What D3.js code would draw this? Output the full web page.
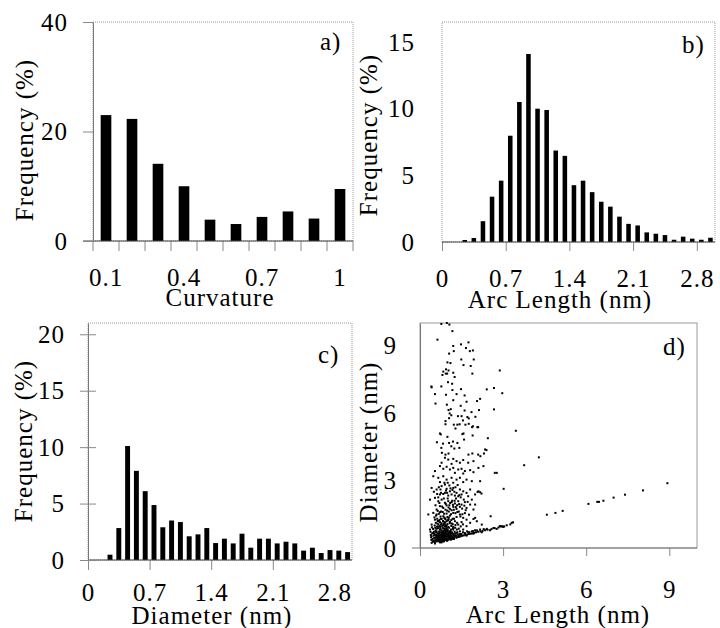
<!DOCTYPE html>
<html>
<head>
<meta charset="utf-8">
<script src="https://cdn.jsdelivr.net/npm/d3@7"></script>
<style>
  body { margin: 0; background: #fff; }
  svg text { font-family: "Liberation Serif", "Times New Roman", Times, serif !important; fill: #000; }
</style>
</head>
<body>
<svg id="chart" width="720" height="628"></svg>
<script>
// ---- data ----
// a) curvature histogram
var curvatureBins = [0.1, 0.2, 0.3, 0.4, 0.5, 0.6, 0.7, 0.8, 0.9, 1];
var curvatureFreq = [23.0, 22.3, 14.1, 10.0, 3.9, 3.1, 4.4, 5.4, 4.1, 9.5];
var curvatureTicks = [0.1, 0.4, 0.7, 1];

// b) arc length histogram (bin start, nm)
var arcLengthBins = [0.2, 0.3, 0.4, 0.5, 0.6, 0.7, 0.8, 0.9, 1.0, 1.1, 1.2, 1.3, 1.4, 1.5,
                     1.6, 1.7, 1.8, 1.9, 2.0, 2.1, 2.2, 2.3, 2.4, 2.5, 2.6, 2.7, 2.8, 2.9];
var arcLengthFreq = [0.15, 0.3, 1.56, 3.4, 4.6, 7.97, 10.5, 14.1, 10.0, 9.9, 6.86, 6.46, 4.26, 4.6,
                     3.74, 3.02, 2.65, 1.9, 1.36, 1.24, 0.72, 0.62, 0.52, 0.17, 0.4, 0.25, 0.17, 0.32];

// c) diameter histogram (bin start, nm)
var diameterBins = [0.2, 0.3, 0.4, 0.5, 0.6, 0.7, 0.8, 0.9, 1.0, 1.1, 1.2, 1.3, 1.4, 1.5,
                    1.6, 1.7, 1.8, 1.9, 2.0, 2.1, 2.2, 2.3, 2.4, 2.5, 2.6, 2.7, 2.8, 2.9];
var diameterFreq = [0.47, 2.83, 10.1, 7.9, 6.1, 4.87, 2.9, 3.5, 3.36, 2.1, 2.27, 2.83, 1.5, 1.89,
                    1.47, 2.33, 1.09, 1.89, 1.89, 1.47, 1.62, 1.47, 0.83, 1.09, 0.62, 0.88, 0.83, 0.7];
var nmTicks = [0, 0.7, 1.4, 2.1, 2.8];

// d) diameter vs arc length, [arc length, diameter] in nm
var scatterPoints = [
  [0.77,9.96],[0.97,10.0],[1.06,9.93],[1.17,9.64],[0.63,9.26],[1.75,9.14],[1.48,9.05],[1.2,8.98],
  [1.66,8.89],[1.8,8.75],[1.91,8.78],[1.22,8.75],[1.05,8.64],[1.49,8.38],[1.94,8.38],[0.99,8.25],
  [1.1,8.22],[1.57,8.13],[1.83,8.09],[0.94,7.94],[1.03,7.89],[0.84,7.84],[0.93,7.75],[0.98,7.75],
  [1.2,7.79],[1.89,7.75],[2.88,7.89],[0.81,7.69],[1.25,7.6],[1.01,7.37],[1.16,7.3],[0.41,7.18],
  [0.42,7.14],[0.77,7.18],[1.17,7.02],[1.48,7.06],[2.41,7.05],[2.67,7.11],[2.97,6.88],[0.54,6.84],
  [0.94,6.81],[1.32,6.84],[1.61,6.78],[2.17,6.63],[2.06,6.53],[1.2,6.57],[1.68,6.5],[0.56,6.42],
  [0.97,6.37],[1.47,6.32],[1.11,6.17],[1.03,6.13],[2.13,6.13],[2.67,6.16],[1.61,6.11],[1.86,6.04],
  [1.07,5.98],[1.13,5.9],[1.37,5.86],[1.5,5.86],[1.71,5.82],[1.76,5.76],[2.0,5.83],[1.05,5.77],
  [0.92,5.64],[1.55,5.67],[1.22,5.48],[1.35,5.48],[1.43,5.5],[1.64,5.48],[1.76,5.52],[1.88,5.37],
  [2.07,5.37],[2.1,5.37],[1.28,5.31],[0.92,5.5],[3.46,5.21],[0.72,5.09],[0.75,5.05],[0.99,4.94],
  [1.53,5.06],[1.57,5.09],[1.9,5.0],[2.45,4.88],[1.91,5.41],
  [0.61,4.7],[0.83,4.64],[1.05,4.67],[1.19,4.73],[1.35,4.67],[1.59,4.82],[0.77,4.45],[1.13,4.52],
  [1.24,4.42],[1.42,4.45],[2.4,4.35],[0.79,4.23],[0.92,4.15],[1.03,4.2],[1.75,4.15],[1.89,4.2],
  [2.1,4.15],[2.31,4.2],[3.76,3.68],[4.29,4.03],[3.02,2.63],[2.7,3.34],[2.55,1.41],[2.22,2.42],
  [2.08,2.49],[2.35,4.38],[2.18,4.08],
  [0.90,4.01],[1.02,3.93],[1.20,3.96],[1.32,3.86],[1.56,3.91],[1.74,3.79],[1.93,3.86],[1.44,3.79],
  [0.78,3.79],[1.14,3.74],[2.29,3.64],[0.72,3.64],[0.84,3.52],[0.96,3.61],[1.08,3.49],[1.20,3.56],
  [1.38,3.49],[1.50,3.52],[1.62,3.42],[1.81,3.46],[1.93,3.37],[0.54,3.42],[1.26,3.34],[1.56,3.31],
  [2.77,3.34],[2.11,3.56],
  [0.48,3.19],[0.66,3.12],[0.84,3.19],[0.96,3.04],[1.14,3.12],[1.32,3.04],[1.44,3.12],[1.68,3.04],
  [1.87,2.97],[0.72,2.93],[1.20,2.90],[1.56,2.93],[2.17,2.97],[0.90,2.82],
  [0.42,2.67],[0.60,2.60],[0.78,2.75],[0.96,2.63],[1.08,2.52],[1.20,2.67],[1.32,2.45],[1.44,2.60],
  [1.56,2.52],[1.68,2.45],[1.81,2.60],[0.72,2.38],[0.90,2.45],[1.02,2.33],[1.14,2.38],[1.26,2.33],
  [1.38,2.30],[1.50,2.38],[2.11,2.52],[2.17,2.48],[1.99,2.38],[0.36,2.15],[1.74,2.30],
  [0.54,2.23],[0.66,2.08],[0.78,2.15],[0.90,2.01],[1.02,2.08],[1.14,2.04],[1.26,1.98],[1.38,2.08],
  [1.50,1.93],[1.62,2.04],[1.81,1.93],[0.72,1.86],[0.84,1.78],[0.96,1.89],[1.08,1.74],[1.20,1.83],
  [1.32,1.74],[1.44,1.83],[1.68,1.78],[1.93,1.71],[1.87,2.15],[1.99,1.93],[0.30,1.49],[0.60,1.71],
  [0.48,1.56],[0.60,1.49],[0.72,1.59],[0.84,1.41],[0.96,1.53],[1.08,1.44],[1.20,1.56],[1.32,1.38],
  [1.44,1.49],[1.56,1.34],[0.54,1.26],[0.66,1.19],[0.78,1.29],[0.90,1.12],[1.02,1.23],[1.14,1.09],
  [1.26,1.19],[1.38,1.04],[1.50,1.15],[1.68,1.26],[1.81,1.12],[1.93,1.29],[2.05,1.19],[2.23,1.04],
  [0.42,1.04],[0.72,0.97],[0.96,1.00],[1.20,0.94],[1.68,0.97],[1.99,1.34],
  [0.36,0.82],[0.48,0.67],[0.60,0.74],[0.72,0.82],[0.84,0.67],[0.96,0.79],[1.08,0.70],[1.20,0.82],
  [1.32,0.67],[1.44,0.74],[1.56,0.82],[0.42,0.52],[0.54,0.45],[0.66,0.55],[0.78,0.49],[0.90,0.40],
  [1.02,0.52],[1.14,0.45],[1.26,0.55],[1.38,0.49],[1.50,0.60],[1.62,0.64],[1.74,0.70],[1.87,0.74],
  [1.99,0.79],[2.17,0.82],[2.41,0.85],[2.65,0.89],[2.89,0.97],[3.13,1.01],[3.31,1.12],[0.48,0.30],
  [0.60,0.37],[0.72,0.25],[0.84,0.34],[0.96,0.37],[1.08,0.40],[1.20,0.43],[1.32,0.46],[1.44,0.52],
  [1.68,0.55],[1.93,0.64],[2.23,0.70],[2.53,0.79],[2.77,0.85],[3.01,0.94],[0.42,0.23],[0.54,0.20],
  [0.66,0.30],[0.78,0.25],
  [0.45,0.40],[0.50,0.55],[0.52,0.62],[0.55,0.35],[0.58,0.48],[0.60,0.58],[0.62,0.42],[0.63,0.66],
  [0.65,0.88],[0.66,0.38],[0.68,0.52],[0.69,0.73],[0.70,0.32],[0.71,0.45],[0.73,0.60],[0.74,0.84],
  [0.75,0.36],[0.76,1.05],[0.77,0.55],[0.79,0.70],[0.80,0.30],[0.81,0.42],[0.82,0.90],[0.83,0.58],
  [0.85,0.48],[0.86,0.76],[0.87,0.33],[0.88,1.15],[0.89,0.62],[0.90,0.85],[0.91,0.50],[0.92,0.36],
  [0.93,0.72],[0.94,0.95],[0.95,0.44],[0.97,0.60],[0.98,1.22],[0.99,0.34],[1.00,0.80],[1.01,0.50],
  [1.03,0.68],[1.04,0.38],[1.05,0.90],[1.06,0.56],[1.07,1.10],[1.09,0.42],[1.10,0.76],[1.11,0.60],
  [1.13,0.98],[1.15,0.40],[1.16,0.66],[1.17,0.50],[1.19,0.88],[1.21,0.58],[1.23,0.44],[1.25,0.72],
  [1.28,1.02],[1.30,0.55],[1.33,0.82],[1.36,0.60],[0.47,0.85],[0.53,1.00],[0.57,1.12],[0.61,0.95],
  [0.64,1.20],[0.67,1.05],[0.72,1.15],[0.84,1.02],[0.92,1.28],[1.04,1.35],[0.56,0.78],[0.44,0.65],
  [0.40,0.48],[0.38,0.72],[0.49,0.32],[0.74,0.28],[0.86,0.29],[0.97,0.32],[1.12,0.37],[1.22,0.40],
  [0.68,0.64],[0.78,0.62],[0.88,0.52],[1.02,0.64],[0.58,0.70],[0.82,0.74],
  [1.40,0.50],[1.46,0.52],[1.52,0.54],[1.58,0.56],[1.64,0.58],[1.70,0.60],[1.76,0.62],[1.82,0.63],
  [1.88,0.65],[1.95,0.67],[2.02,0.70],[2.10,0.72],[2.18,0.74],[2.26,0.76],[2.35,0.79],[2.44,0.81],
  [2.58,0.84],[2.70,0.88],[2.83,0.91],[2.95,0.96],[1.48,0.62],[1.62,0.66],[1.78,0.70],[1.92,0.75],
  [2.06,0.78],[1.55,0.70],[1.70,0.74],[2.30,0.84],
  [0.64,1.65],[0.70,2.00],[0.74,1.40],[0.76,2.45],[0.82,1.60],[0.86,2.20],[0.88,1.35],[0.92,1.70],
  [0.94,2.55],[0.99,1.38],[1.00,2.20],[1.04,1.62],[1.06,1.90],[1.10,2.65],[1.12,1.50],[1.16,2.10],
  [1.18,1.30],[1.22,1.70],[1.24,2.50],[1.28,1.55],[1.30,2.20],[1.34,1.90],[1.40,1.62],[1.42,2.35],
  [1.46,1.40],[1.52,1.75],[1.58,2.15],[1.62,1.55],[0.62,2.40],[0.68,2.70],[0.56,1.90],[0.50,2.50],
  [1.36,2.80],[1.00,2.90],
  [0.46,0.28],[0.51,0.44],[0.53,0.27],[0.57,0.58],[0.59,0.29],[0.61,0.50],[0.64,0.33],[0.65,0.46],
  [0.67,0.61],[0.69,0.40],[0.71,0.56],[0.72,0.70],[0.74,0.47],[0.76,0.38],[0.77,0.78],[0.79,0.53],
  [0.80,0.45],[0.81,0.64],[0.83,0.39],[0.84,0.86],[0.85,0.55],[0.87,0.68],[0.88,0.44],[0.89,0.95],
  [0.90,0.58],[0.91,0.36],[0.92,0.80],[0.93,0.52],[0.94,0.66],[0.96,0.42],[0.97,0.88],[0.98,0.55],
  [0.99,0.72],[1.01,0.38],[1.02,0.94],[1.03,0.58],[1.05,0.46],[1.06,0.74],[1.08,0.52],[1.09,0.64],
  [1.11,0.44],[1.12,0.82],[1.14,0.54],[1.15,0.70],[1.18,0.46],[1.20,0.62],[1.24,0.52],[1.27,0.64],
  [1.31,0.48],[1.35,0.70],[1.39,0.56],[1.43,0.62],[0.50,0.72],[0.55,0.90],[0.60,0.86],[0.63,1.08],
  [0.66,0.96],[0.70,1.24],[0.73,0.92],[0.75,1.30],[0.78,1.10],[0.80,0.98],[0.83,1.20],[0.86,1.08],
  [0.89,1.32],[0.91,1.02],[0.95,1.18],[0.99,1.06],[1.03,1.28],[1.08,1.16],[1.13,1.24],[1.18,1.06],
  [1.23,1.30],[1.27,0.90],[1.34,1.12],[1.40,0.86],[1.47,0.96],[1.55,1.05],[0.41,0.36],[0.43,0.92],
  [0.39,0.58],[0.52,1.36],[0.58,1.44],[0.62,1.30],[0.68,1.52],[0.76,1.62],[0.80,1.84],[0.87,1.52],
  [0.93,1.96],[0.98,1.66],[1.03,1.80],[1.09,2.00],[1.14,1.68],[1.19,1.92],[1.25,2.10],[1.29,1.82],
  [1.35,1.60],[1.41,1.95],[1.47,2.25],[1.53,1.50],[1.60,1.88],[1.65,1.68],[1.72,2.05],[1.77,1.48],
  [0.66,2.25],[0.74,2.60],[0.84,2.40],[0.88,2.90],[0.98,2.45],[1.06,2.78],[1.17,2.58],[1.28,2.70],
  [2.88,0.96],[2.97,0.96],[3.04,0.96],[3.26,1.05],[3.36,1.14],[4.58,1.48],[4.89,1.56],[5.15,1.65],
  [6.08,1.96],[6.40,2.05],[6.46,2.05],[6.62,2.10],[6.99,2.24],[7.40,2.37],[8.05,2.56],[8.93,2.88]
];
var scatterTicks = [0, 3, 6, 9];

// ---- drawing ----
var svg = d3.select("#chart");
var fontSize = 25;
var serif = "'Liberation Serif', 'Times New Roman', Times, serif";

function panel(box) {
  return svg.append("g").attr("transform", "translate(" + box.left + "," + box.top + ")");
}

function styleAxis(g, tickColor) {
  g.attr("font-family", serif);
  g.selectAll("text").attr("font-family", serif)
    .style("font-size", fontSize + "px").style("letter-spacing", "1px");
  g.selectAll(".tick line").attr("stroke", tickColor);
}

function frame(g, box, dashed) {
  g.append("rect")
    .attr("x", 0).attr("y", 0)
    .attr("width", box.width).attr("height", box.height)
    .attr("fill", "none")
    .attr("stroke", "#9a9a9a")
    .attr("stroke-width", 1)
    .attr("stroke-dasharray", dashed ? "1,1" : null);
}

function label(g, text, x, y, anchor, rotate) {
  var t = g.append("text")
    .attr("text-anchor", anchor || "middle")
    .attr("font-family", serif)
    .style("font-size", fontSize + "px")
    .style("letter-spacing", "1px")
    .text(text);
  if (rotate) t.attr("transform", "translate(" + x + "," + y + ") rotate(-90)");
  else t.attr("x", x).attr("y", y);
}

// ---------- a) Curvature ----------
var boxA = { left: 93, top: 22, width: 260, height: 219 };
var gA = panel(boxA);
frame(gA, boxA, true);

var xA = d3.scaleBand().domain(curvatureBins).range([0, boxA.width])
  .paddingInner(0.59).paddingOuter(0.295);
var yA = d3.scaleLinear().domain([0, 40]).range([boxA.height, 0]);

gA.selectAll("rect.bar")
  .data(curvatureBins)
  .enter().append("rect")
  .attr("class", "bar")
  .attr("x", function (d) { return xA(d); })
  .attr("y", function (d, i) { return yA(curvatureFreq[i]); })
  .attr("width", xA.bandwidth())
  .attr("height", function (d, i) { return yA(0) - yA(curvatureFreq[i]); })
  .attr("fill", "#000");

// bin boundary ticks
gA.append("g").selectAll("line")
  .data(d3.range(curvatureBins.length + 1))
  .enter().append("line")
  .attr("x1", function (i) { return i * xA.step(); })
  .attr("x2", function (i) { return i * xA.step(); })
  .attr("y1", boxA.height).attr("y2", boxA.height + 10)
  .attr("stroke", "#888");

var axA = gA.append("g").attr("transform", "translate(0," + boxA.height + ")")
  .call(d3.axisBottom(xA).tickValues(curvatureTicks).tickSize(0).tickPadding(27)
    .tickFormat(d3.format("")));
axA.select(".domain").remove();
styleAxis(axA, "#888");

gA.append("line").attr("x1", -10).attr("x2", boxA.width)
  .attr("y1", boxA.height).attr("y2", boxA.height).attr("stroke", "#444");

var ayA = gA.append("g")
  .call(d3.axisLeft(yA).tickValues([0, 20, 40]).tickSize(10).tickSizeOuter(0).tickPadding(15));
ayA.select(".domain").attr("stroke", "#777");
styleAxis(ayA, "#888");

label(svg, "Curvature", 220, 306);
label(svg, "Frequency (%)", 33, 140, "middle", true);
label(svg, "a)", 320, 50, "start");

// ---------- b) Arc length ----------
var boxB = { left: 442, top: 22, width: 273, height: 220 };
var gB = panel(boxB);
frame(gB, boxB, true);

var xB = d3.scaleLinear().domain([0, 3]).range([0, boxB.width]);
var yB = d3.scaleLinear().domain([0, 16.5]).range([boxB.height, 0]);

gB.selectAll("rect.bar")
  .data(arcLengthBins)
  .enter().append("rect")
  .attr("class", "bar")
  .attr("x", function (d) { return xB(d + 0.025); })
  .attr("y", function (d, i) { return yB(arcLengthFreq[i]); })
  .attr("width", xB(0.05) - xB(0))
  .attr("height", function (d, i) { return yB(0) - yB(arcLengthFreq[i]); })
  .attr("fill", "#000");

var axB = gB.append("g").attr("transform", "translate(0," + boxB.height + ")")
  .call(d3.axisBottom(xB).tickValues(nmTicks).tickSize(9).tickPadding(18)
    .tickFormat(d3.format("")));
axB.select(".domain").remove();
styleAxis(axB, "#888");
gB.append("line").attr("x1", 0).attr("x2", boxB.width)
  .attr("y1", boxB.height).attr("y2", boxB.height).attr("stroke", "#444");

var ayB = gB.append("g")
  .call(d3.axisLeft(yB).tickValues([0, 5, 10, 15]).tickSize(0).tickPadding(27));
ayB.select(".domain").remove();
styleAxis(ayB, "#888");

label(svg, "Arc Length (nm)", 560, 308);
label(svg, "Frequency (%)", 377, 135, "middle", true);
label(svg, "b)", 682, 53, "start");

// ---------- c) Diameter ----------
var boxC = { left: 88, top: 323, width: 264, height: 237 };
var gC = panel(boxC);
frame(gC, boxC, true);

var xC = d3.scaleLinear().domain([0, 3]).range([0, boxC.width]);
var yC = d3.scaleLinear().domain([0, 21]).range([boxC.height, 0]);

gC.selectAll("rect.bar")
  .data(diameterBins)
  .enter().append("rect")
  .attr("class", "bar")
  .attr("x", function (d) { return xC(d + 0.022); })
  .attr("y", function (d, i) { return yC(diameterFreq[i]); })
  .attr("width", xC(0.056) - xC(0))
  .attr("height", function (d, i) { return yC(0) - yC(diameterFreq[i]); })
  .attr("fill", "#000");

var axC = gC.append("g").attr("transform", "translate(0," + boxC.height + ")")
  .call(d3.axisBottom(xC).tickValues(nmTicks).tickSize(10).tickPadding(13)
    .tickFormat(d3.format("")));
axC.select(".domain").remove();
styleAxis(axC, "#888");
gC.append("line").attr("x1", 0).attr("x2", boxC.width)
  .attr("y1", boxC.height).attr("y2", boxC.height).attr("stroke", "#444");

var ayC = gC.append("g")
  .call(d3.axisLeft(yC).tickValues([0, 5, 10, 15, 20]).tickSize(8).tickSizeOuter(0).tickPadding(15));
ayC.select(".domain").attr("stroke", "#777");
ayC.selectAll(".tick line").attr("x1", 8);
styleAxis(ayC, "#888");

label(svg, "Diameter (nm)", 212, 624);
label(svg, "Frequency (%)", 32, 441, "middle", true);
label(svg, "c)", 318, 363, "start");

// ---------- d) Diameter vs arc length ----------
var boxD = { left: 420, top: 323, width: 277, height: 225 };
var gD = panel(boxD);
frame(gD, boxD, false);

var xD = d3.scaleLinear().domain([0, 10]).range([0, boxD.width]);
var yD = d3.scaleLinear().domain([0, 10]).range([boxD.height, 0]);

gD.selectAll("rect.dot")
  .data(scatterPoints)
  .enter().append("rect")
  .attr("class", "dot")
  .attr("x", function (d) { return xD(d[0]) - 1; })
  .attr("y", function (d) { return yD(d[1]) - 1; })
  .attr("width", 2).attr("height", 2)
  .attr("fill", "#000");

var axD = gD.append("g").attr("transform", "translate(0," + boxD.height + ")")
  .call(d3.axisBottom(xD).tickValues(scatterTicks).tickSize(8).tickPadding(24));
axD.select(".domain").remove();
styleAxis(axD, "#888");
gD.append("line").attr("x1", -8).attr("x2", boxD.width)
  .attr("y1", boxD.height).attr("y2", boxD.height).attr("stroke", "#777");

var ayD = gD.append("g")
  .call(d3.axisLeft(yD).tickValues(scatterTicks).tickSize(0).tickPadding(23));
ayD.select(".domain").attr("stroke", "#777");
styleAxis(ayD, "#888");

label(svg, "Arc Length (nm)", 558, 623);
label(svg, "Diameter (nm)", 377, 442, "middle", true);
label(svg, "d)", 663, 355, "start");
</script>
</body>
</html>
